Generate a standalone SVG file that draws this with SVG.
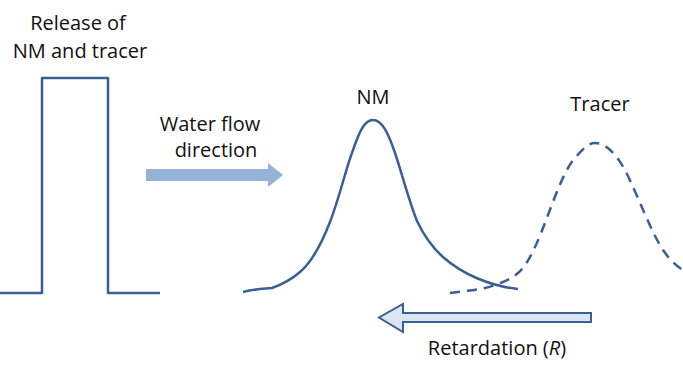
<svg xmlns="http://www.w3.org/2000/svg" width="683" height="370" viewBox="0 0 683 370">
<style>
.t{font-family:"Open Sans","Liberation Sans",sans-serif;font-size:20px;fill:#111;text-anchor:middle}
.ln{fill:none;stroke:#3A5F95;stroke-width:2.5;stroke-linejoin:round}
</style>
<rect width="683" height="370" fill="#fff"/>
<g id="release">
<path class="ln" d="M0,293 H42 V78 H108 V293 H160"/>
<text class="t" x="78" y="30">Release of</text>
<text class="t" x="80" y="58">NM and tracer</text>
</g>
<g id="nm">
<path class="ln" d="M243,292 C255,289 262,289 272,288 C283,284 292,279 300,272 C312,262 321,245 330,222 C340,196 346,168 353,150 C359,133 364,120 373,120 C382,120 388,133 394,150 C401,170 408,198 417,221 C425,238 433,248 443,257 C462,274 490,286 518,289"/>
<text class="t" x="373" y="104">NM</text>
</g>
<g id="tracer">
<path class="ln" stroke-dasharray="10,7" d="M450,293 C465,291 475,290 485,288 C500,284 510,280 518,273 C540,255 555,180 575,158 C585,146 590,143 595,143 C605,143 615,152 625,170 C640,200 650,230 663,250 C670,260 676,266 683,270"/>
<text class="t" x="600" y="111">Tracer</text>
</g>
<g id="connectors">
<g id="water-flow">
<path d="M146,169 H268 V163 L283,175 L268,187 V181 H146 Z" fill="#95B3D7"/>
<text class="t" x="210" y="131">Water flow</text>
<text class="t" x="216" y="157">direction</text>
</g>
<g id="retardation">
<path d="M591,313 H403 V304 L379,317.5 L403,332 V322 H591 Z" fill="#DCE6F2" stroke="#3A5F95" stroke-width="2" stroke-linejoin="miter"/>
<text class="t" x="497" y="355">Retardation (<tspan font-style="italic">R</tspan>)</text>
</g>
</g>
</svg>
